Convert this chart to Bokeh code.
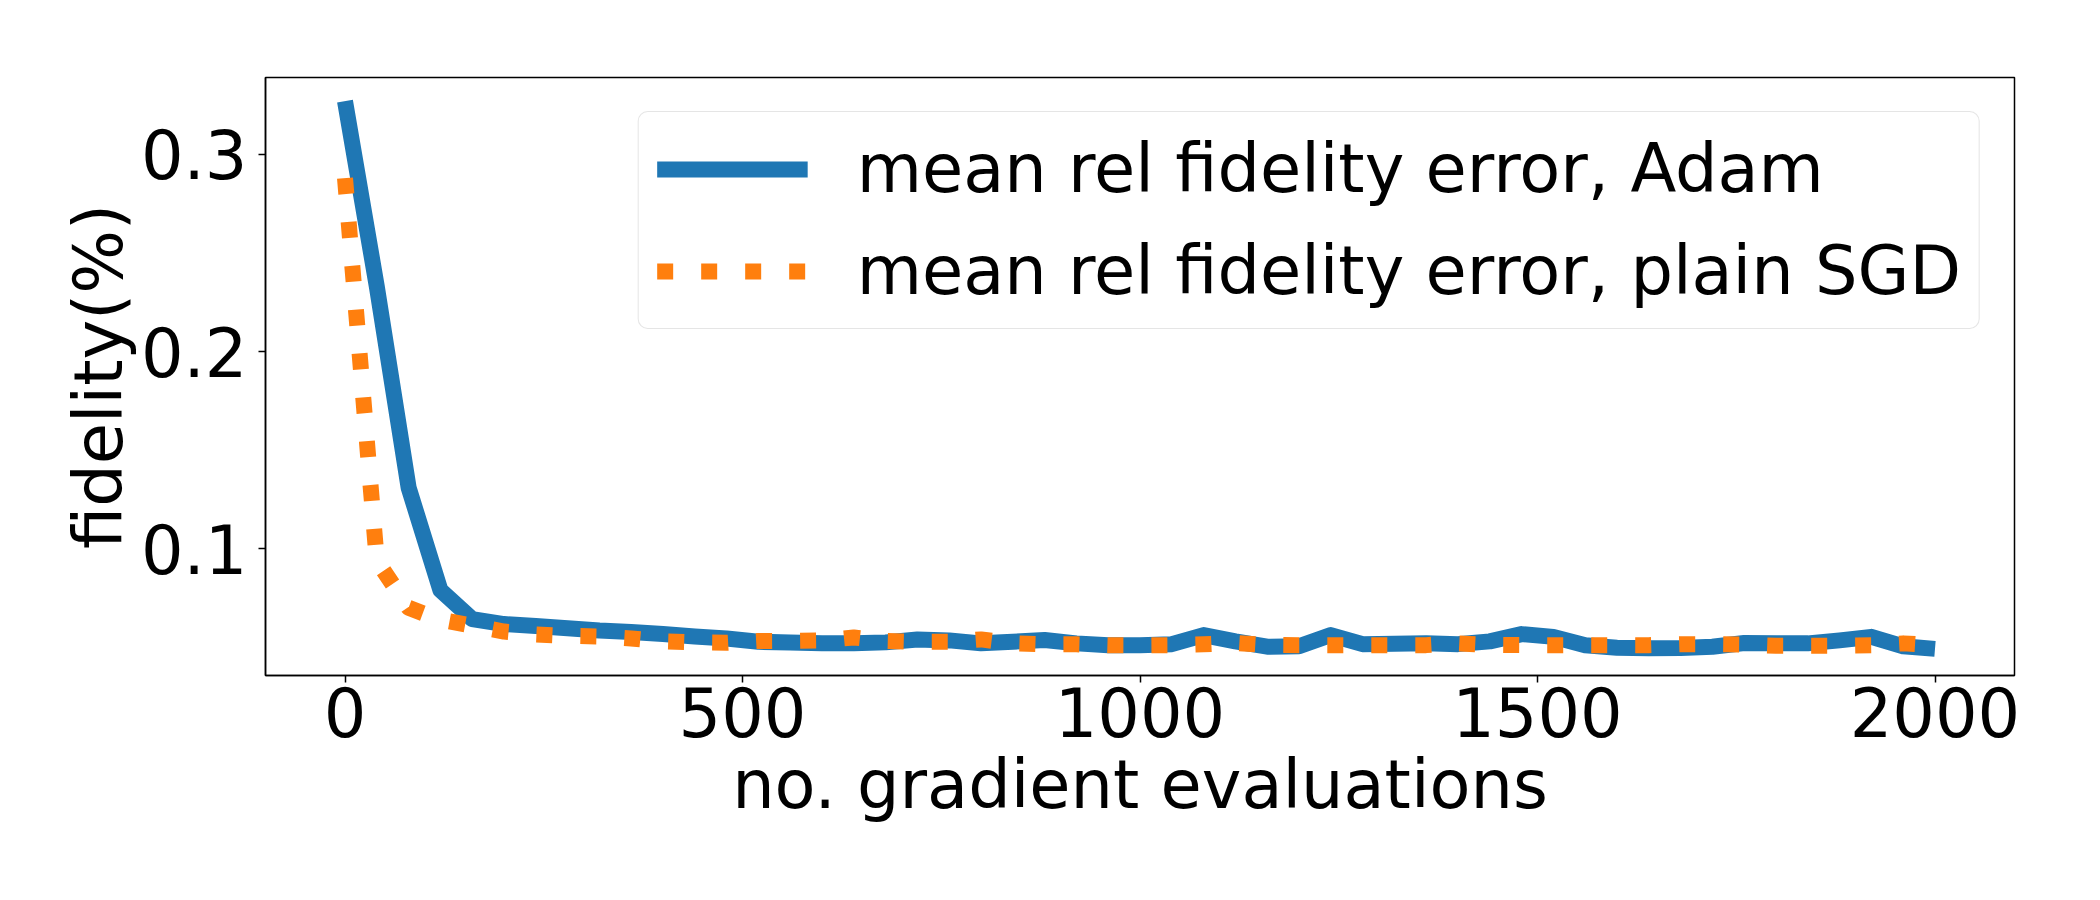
from bokeh.plotting import figure
from bokeh.models import Range1d, FixedTicker, Legend, LegendItem
from bokeh.embed import file_html
from bokeh.resources import INLINE

# ---- data ----
evals = list(range(0, 2001, 40))

adam = [0.327, 0.233, 0.131, 0.079, 0.0643, 0.0618, 0.0608, 0.0597, 0.0585, 0.0578,
        0.0568, 0.0555, 0.0545, 0.0528, 0.0524, 0.0520, 0.0520, 0.0525, 0.0540, 0.0535,
        0.0520, 0.0528, 0.0537, 0.0520, 0.0510, 0.0511, 0.0516, 0.0562, 0.0530, 0.0503,
        0.0505, 0.0562, 0.0516, 0.0518, 0.0520, 0.0516, 0.0530, 0.0567, 0.0553, 0.0510,
        0.0498, 0.0495, 0.0497, 0.0503, 0.0522, 0.0520, 0.0520, 0.0535, 0.0553, 0.0505,
        0.0492]

sgd = [0.288, 0.094, 0.070, 0.064, 0.061, 0.058, 0.0565, 0.0558, 0.0555, 0.0545,
       0.0530, 0.0525, 0.0523, 0.0532, 0.0533, 0.0535, 0.0550, 0.0532, 0.0528, 0.0528,
       0.0540, 0.0520, 0.0515, 0.0515, 0.0510, 0.0510, 0.0511, 0.0515, 0.0522, 0.0512,
       0.0511, 0.0511, 0.0511, 0.0511, 0.0511, 0.0520, 0.0512, 0.0511, 0.0511, 0.0511,
       0.0511, 0.0511, 0.0516, 0.0516, 0.0514, 0.0508, 0.0508, 0.0508, 0.0510, 0.0520,
       0.0510]

x_ticks = [0, 500, 1000, 1500, 2000]
y_ticks = [0.1, 0.2, 0.3]
labels = ["mean rel fidelity error, Adam", "mean rel fidelity error, plain SGD"]
x_label = "no. gradient evaluations"
y_label = "fidelity(%)"

FONT = "DejaVu Sans"
FS = "67px"

p = figure(width=2100, height=900, output_backend="svg", toolbar_location=None,
           x_range=Range1d(-100, 2100), y_range=Range1d(0.0357, 0.339),
           min_border_left=265, min_border_right=86, min_border_top=77,
           min_border_bottom=225)
p.background_fill_color = "white"
p.border_fill_color = "white"
p.outline_line_color = "black"
p.outline_line_width = 1.5
p.xgrid.visible = False
p.ygrid.visible = False

r1 = p.line(evals, adam, line_color="#1f77b4", line_width=16, line_join="round",
            line_cap="butt")
r2 = p.line(evals, sgd, line_color="#ff7f0e", line_width=16, line_dash="16 28",
            line_join="round", line_cap="butt")

for ax in (p.xaxis[0], p.yaxis[0]):
    ax.axis_line_color = "black"
    ax.axis_line_width = 1.5
    ax.major_tick_line_color = "black"
    ax.major_tick_line_width = 1.5
    ax.major_tick_out = 7
    ax.major_tick_in = 0
    ax.minor_tick_line_color = None
    ax.major_label_text_font = FONT
    ax.major_label_text_font_size = FS
    ax.major_label_text_color = "black"
    ax.axis_label_text_font = FONT
    ax.axis_label_text_font_size = FS
    ax.axis_label_text_font_style = "normal"
    ax.axis_label_text_color = "black"

p.xaxis[0].ticker = FixedTicker(ticks=x_ticks)
p.yaxis[0].ticker = FixedTicker(ticks=y_ticks)
p.xaxis[0].axis_label = x_label
p.yaxis[0].axis_label = y_label
p.xaxis[0].major_label_standoff = 4
p.yaxis[0].major_label_standoff = 11
p.xaxis[0].axis_label_standoff = 6
p.yaxis[0].axis_label_standoff = 0

legend = Legend(items=[LegendItem(label=labels[0], renderers=[r1]),
                       LegendItem(label=labels[1], renderers=[r2])],
                location="top_right")
legend.margin = 34
legend.padding = 18
legend.spacing = 24
legend.glyph_width = 151
legend.glyph_height = 78
legend.label_height = 78
legend.label_standoff = 49
legend.label_text_font = FONT
legend.label_text_font_size = FS
legend.label_text_color = "black"
legend.border_line_color = "#cccccc"
legend.border_line_width = 1.5
legend.background_fill_color = "white"
legend.background_fill_alpha = 0.8
try:
    legend.border_radius = 10
except Exception:
    pass
p.add_layout(legend)

open("out.html", "w").write(file_html(p, INLINE))
